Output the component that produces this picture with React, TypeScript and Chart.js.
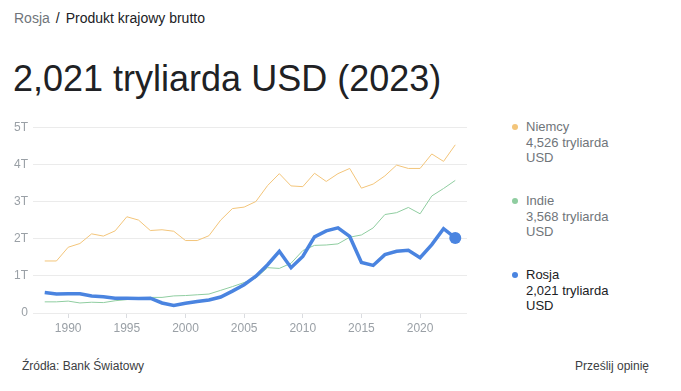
import React, { useEffect, useRef } from "react";
import { Chart, registerables } from "chart.js";

Chart.register(...registerables);

const years: number[] = [
  1988, 1989, 1990, 1991, 1992, 1993, 1994, 1995, 1996, 1997, 1998, 1999,
  2000, 2001, 2002, 2003, 2004, 2005, 2006, 2007, 2008, 2009, 2010, 2011,
  2012, 2013, 2014, 2015, 2016, 2017, 2018, 2019, 2020, 2021, 2022, 2023,
];

const niemcy: number[] = [
  1.4, 1.4, 1.77, 1.87, 2.13, 2.07, 2.21, 2.59, 2.5, 2.22, 2.24, 2.2,
  1.95, 1.95, 2.08, 2.5, 2.81, 2.85, 3.0, 3.43, 3.75, 3.42, 3.4, 3.76,
  3.54, 3.75, 3.89, 3.36, 3.47, 3.69, 3.98, 3.89, 3.89, 4.28, 4.08, 4.526,
];

const indie: number[] = [
  0.3, 0.3, 0.32, 0.27, 0.29, 0.28, 0.33, 0.36, 0.39, 0.42, 0.42, 0.46,
  0.47, 0.49, 0.51, 0.61, 0.71, 0.82, 0.94, 1.22, 1.2, 1.34, 1.68, 1.82,
  1.83, 1.86, 2.04, 2.1, 2.29, 2.65, 2.7, 2.84, 2.67, 3.15, 3.35, 3.568,
];

const rosja: number[] = [
  0.55, 0.51, 0.52, 0.52, 0.46, 0.44, 0.4, 0.4, 0.39, 0.4, 0.27, 0.2,
  0.26, 0.31, 0.35, 0.43, 0.59, 0.76, 0.99, 1.3, 1.66, 1.22, 1.52, 2.05,
  2.21, 2.29, 2.06, 1.36, 1.28, 1.57, 1.66, 1.69, 1.49, 1.84, 2.27, 2.021,
];

const xTicks: number[] = [1990, 1995, 2000, 2005, 2010, 2015, 2020];
const yTickLabels: string[] = ["0", "1T", "2T", "3T", "4T", "5T"];

const legendItems = [
  { name: "Niemcy", value: "4,526 tryliarda", unit: "USD", color: "#f3c57a", text: "#70757a" },
  { name: "Indie", value: "3,568 tryliarda", unit: "USD", color: "#8fcda0", text: "#70757a" },
  { name: "Rosja", value: "2,021 tryliarda", unit: "USD", color: "#4a84e0", text: "#202124" },
];

const FONT = "Arial, 'Liberation Sans', sans-serif";

export default function App() {
  const canvasRef = useRef<HTMLCanvasElement | null>(null);

  useEffect(() => {
    if (!canvasRef.current) return;
    const toPts = (arr: number[]) => arr.map((v, i) => ({ x: years[i], y: v }));
    const chart = new Chart(canvasRef.current, {
      type: "line",
      data: {
        datasets: [
          {
            label: "Rosja",
            data: toPts(rosja),
            borderColor: "#4a84e0",
            backgroundColor: "#4a84e0",
            borderWidth: 3.5,
            pointRadius: rosja.map((_, i) => (i === rosja.length - 1 ? 6 : 0)),
            pointBorderWidth: 0,
            tension: 0,
          },
          {
            label: "Indie",
            data: toPts(indie),
            borderColor: "#8fcda0",
            backgroundColor: "#8fcda0",
            borderWidth: 1,
            pointRadius: 0,
            tension: 0,
          },
          {
            label: "Niemcy",
            data: toPts(niemcy),
            borderColor: "#f3c57a",
            backgroundColor: "#f3c57a",
            borderWidth: 1,
            pointRadius: 0,
            tension: 0,
          },
        ],
      },
      options: {
        animation: false,
        responsive: false,
        maintainAspectRatio: false,
        layout: { padding: { top: 10, right: 8, left: 0, bottom: 0 } },
        plugins: { legend: { display: false }, tooltip: { enabled: false } },
        scales: {
          x: {
            type: "linear",
            min: 1987,
            max: 2024,
            afterBuildTicks: (scale: any) => {
              scale.ticks = xTicks.map((v) => ({ value: v }));
            },
            afterFit: (scale: any) => {
              scale.height = 34;
            },
            grid: {
              display: true,
              drawOnChartArea: false,
              drawTicks: true,
              tickLength: 5,
              color: "#dadce0",
            },
            border: { display: false },
            ticks: {
              color: "#9aa0a6",
              font: { family: FONT, size: 12 },
              padding: 3,
              maxRotation: 0,
              callback: (v: any) => String(v),
            },
          },
          y: {
            min: 0,
            max: 5,
            afterFit: (scale: any) => {
              scale.width = 33;
            },
            grid: { color: "#ebebeb", drawTicks: false },
            border: { display: false },
            ticks: {
              stepSize: 1,
              padding: 5,
              color: "#9aa0a6",
              font: { family: FONT, size: 12 },
              callback: (v: any) => yTickLabels[Math.round(Number(v))] ?? "",
            },
          },
        },
      },
    } as any);
    return () => chart.destroy();
  }, []);

  return (
    <div style={{ position: "absolute", left: 0, top: 0, width: 681, height: 391, background: "#fff", fontFamily: FONT, overflow: "hidden" }}>
      <div style={{ position: "absolute", left: 14, top: 9, fontSize: 14, lineHeight: "18px", color: "#202124", whiteSpace: "nowrap" }}>
        <span style={{ color: "#70757a" }}>Rosja</span>
        <span style={{ margin: "0 6px" }}>/</span>
        <span>Produkt krajowy brutto</span>
      </div>
      <div style={{ position: "absolute", left: 13, top: 58, fontSize: 36, lineHeight: "42px", color: "#202124", whiteSpace: "nowrap" }}>
        2,021 tryliarda USD (2023)
      </div>
      <canvas ref={canvasRef} width={475} height={232} style={{ position: "absolute", left: 0, top: 115, width: 475, height: 232 }} />
      {legendItems.map((it, i) => (
        <div key={it.name} style={{ position: "absolute", left: 512, top: 119 + i * 74, fontSize: 13, lineHeight: "15.5px", color: it.text, whiteSpace: "nowrap" }}>
          <span style={{ position: "absolute", left: 0, top: 5, width: 6, height: 6, borderRadius: 3, background: it.color }} />
          <div style={{ paddingLeft: 14 }}>
            <div>{it.name}</div>
            <div>{it.value}</div>
            <div>{it.unit}</div>
          </div>
        </div>
      ))}
      <div style={{ position: "absolute", left: 22, top: 358, fontSize: 12, lineHeight: "16px", color: "#3c4043", whiteSpace: "nowrap" }}>
        Źródła: Bank Światowy
      </div>
      <div style={{ position: "absolute", right: 32, top: 358, fontSize: 12, lineHeight: "16px", color: "#3c4043", whiteSpace: "nowrap" }}>
        Prześlij opinię
      </div>
    </div>
  );
}
